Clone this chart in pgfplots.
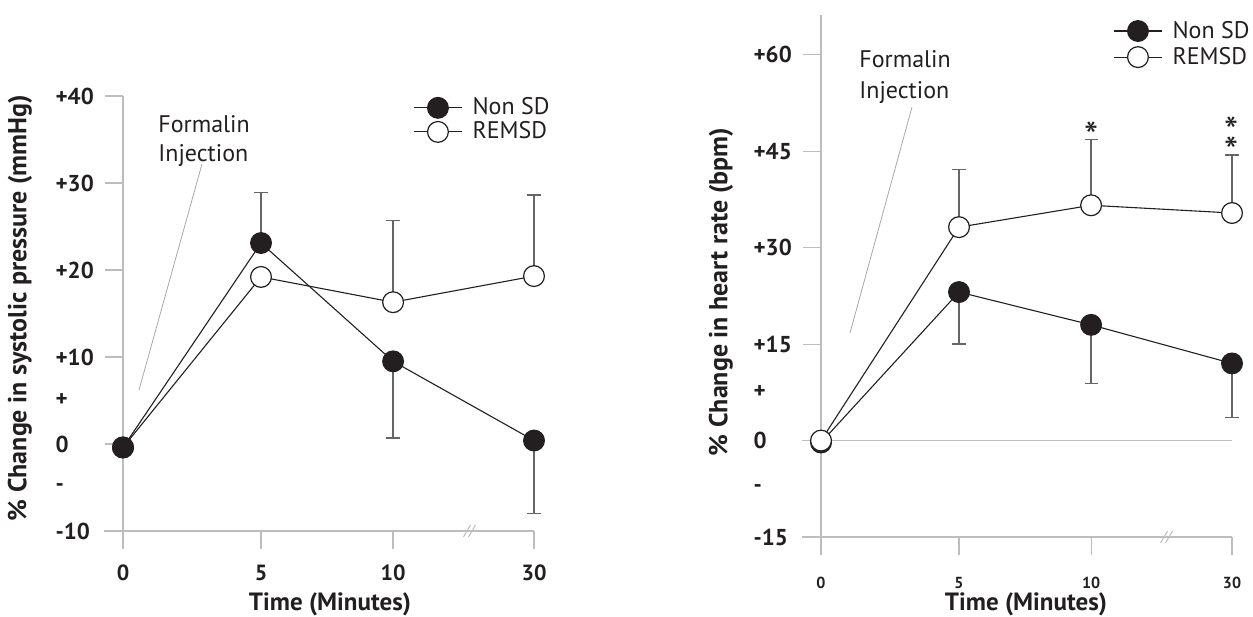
\documentclass[border=0pt]{standalone}
\usepackage{fontspec}
\setmainfont{PT Sans}
\usepackage{pgfplots}
\pgfplotsset{compat=1.18}
\usetikzlibrary{calc}
\definecolor{axgray}{HTML}{BDBDBD}
\definecolor{ebgray}{HTML}{666666}
\definecolor{ink}{HTML}{231F20}
\definecolor{ptrgray}{HTML}{A8A8A8}

\pgfplotsset{
  legend image code/.code={\draw[mark repeat=2,mark phase=2,#1] plot coordinates {(0pt,0pt) (12pt,0pt) (24pt,0pt)};},
  panel/.style={
    scale only axis, width=205.5pt,
    xmin=0, xmax=2.978,
    axis x line*=bottom, axis y line*=left,
    axis line style={axgray, line width=0.6pt},
    tick style={axgray, line width=0.6pt},
    tick align=outside, major tick length=9pt,
    xtick={0,1,1.957,2.978}, xticklabels={0,5,10,30},
    clip=false,
    yticklabel style={font=\fontsize{11.5}{13}\selectfont\bfseries, text=ink, anchor=east, text width=20.5pt, align=left, inner sep=0pt, xshift=-4pt},
    legend style={draw=none, fill=none, inner sep=0pt, font=\fontsize{12}{14}\selectfont, text=ink, cells={anchor=west}, row sep=-2pt, column sep=3pt},
  },
  nonsd/.style={ink, line width=0.55pt, mark=*, mark size=5.2pt, mark options={solid, fill=ink, draw=ink}},
  remsd/.style={ink, line width=0.55pt, mark=*, mark size=5.2pt, mark options={solid, fill=white, draw=ink, line width=0.6pt}},
  ebar/.style={forget plot, draw=none, mark=none, error bars/.cd, y dir=#1, y explicit, error bar style={draw=ebgray, line width=0.75pt}, error mark options={rotate=90, draw=ebgray, line width=0.75pt, mark size=3.3pt}},
}
\tikzset{star/.style={font={\fontsize{20}{10}\selectfont\lineskiplimit=-40pt}, text=ink, anchor=base, inner sep=0pt, align=center}}

\begin{document}
\begin{tikzpicture}
\useasboundingbox (0,0) rectangle (626.5pt,308pt);

% ---------------- left panel ----------------
\begin{axis}[panel, at={(61.5pt,42.5pt)}, anchor=south west,
  height=217.5pt, ymin=-10, ymax=40,
  ytick={40,30,20,10,0,-10}, yticklabels={+40,+30,+20,+10,0,-10},
  extra y ticks={5,-5}, extra y tick labels={+,-},
  extra y tick style={major tick style={draw=none}},
  xticklabel style={font=\fontsize{11}{13}\selectfont\bfseries, text=ink, yshift=-4.5pt},
  legend style={at={(rel axis cs:0.7056,1.006)}, anchor=north west},
]
\addlegendimage{nonsd}\addlegendentry{Non SD}
\addlegendimage{remsd}\addlegendentry{REMSD}
\draw[axgray, line width=0.6pt] (axis cs:-0.138,-10) -- (axis cs:0,-10);
\draw[axgray, line width=0.5pt] ($(axis cs:2.514,-10)+(-3.25pt,-3pt)$) -- ++(3.5pt,6pt);
\draw[axgray, line width=0.5pt] ($(axis cs:2.514,-10)+(-0.75pt,-3pt)$) -- ++(3.5pt,6pt);
\addplot[ebar=plus] coordinates {(1,23.1) +- (0,5.8)};
\addplot[ebar=minus] coordinates {(1.957,9.5) +- (0,8.8) (2.978,0.4) +- (0,8.4)};
\addplot[ebar=plus] coordinates {(1.957,16.3) +- (0,9.4) (2.978,19.3) +- (0,9.3)};
\addplot[remsd, forget plot] coordinates {(0,-0.4) (1,19.2) (1.957,16.3) (2.978,19.3)};
\addplot[nonsd, forget plot] coordinates {(0,-0.4) (1,23.1) (1.957,9.5) (2.978,0.4)};
\end{axis}

% ---------------- right panel ----------------
\begin{axis}[panel, at={(410.5pt,39.5pt)}, anchor=south west,
  height=261pt, ymin=-15, ymax=66.2,
  ytick={60,45,30,15,0,-15}, yticklabels={+60,+45,+30,+15,0,-15},
  extra y ticks={7.5,-7.5}, extra y tick labels={+,-},
  extra y tick style={major tick style={draw=none}},
  xticklabel style={font=\fontsize{8}{9}\selectfont\bfseries, text=ink, yshift=-7.5pt},
  legend style={at={(rel axis cs:0.7105,0.997)}, anchor=north west, row sep=-1pt},
]
\addlegendimage{nonsd}\addlegendentry{Non SD}
\addlegendimage{remsd}\addlegendentry{REMSD}
\draw[axgray, line width=0.6pt] (axis cs:-0.138,-15) -- (axis cs:0,-15);
\draw[axgray, line width=0.6pt] (axis cs:-0.138,0) -- (axis cs:2.978,0);
\draw[axgray, line width=0.5pt] ($(axis cs:2.507,-15)+(-3.25pt,-3pt)$) -- ++(3.5pt,6pt);
\draw[axgray, line width=0.5pt] ($(axis cs:2.507,-15)+(-0.75pt,-3pt)$) -- ++(3.5pt,6pt);
\addplot[ebar=minus] coordinates {(1,23.1) +- (0,8.1) (1.957,18.0) +- (0,9.1) (2.978,12.0) +- (0,8.4)};
\addplot[ebar=plus] coordinates {(1,33.2) +- (0,9.0) (1.957,36.6) +- (0,10.2) (2.978,35.4) +- (0,9.0)};
\addplot[nonsd, forget plot] coordinates {(0,-0.3) (1,23.1) (1.957,18.0) (2.978,12.0)};
\addplot[remsd, forget plot] coordinates {(0,0) (1,33.2) (1.957,36.6) (2.978,35.4)};
\node[star] at (axis cs:1.957,45.1) {*};
\node[star] at (axis cs:2.978,42.8) {*\\*};
\end{axis}

% ---------------- texts ----------------
\node[rotate=90, font=\fontsize{13}{14}\selectfont\bfseries, text=ink] at (10pt,154pt) {\% Change in systolic pressure (mmHg)};
\node[rotate=90, font=\fontsize{13}{14}\selectfont\bfseries, text=ink] at (360.5pt,162pt) {\% Change in heart rate (bpm)};
\node[inner sep=1pt, font=\fontsize{12.5}{14}\selectfont\bfseries, text=ink] at (165pt,6pt) {Time (Minutes)};
\node[inner sep=1pt, font=\fontsize{12.5}{14}\selectfont\bfseries, text=ink] at (513pt,6pt) {Time (Minutes)};

\node[anchor=base west, inner sep=0pt, font=\fontsize{12}{14}\selectfont, text=ink] at (79pt,241.5pt) {Formalin};
\node[anchor=base west, inner sep=0pt, font=\fontsize{12}{14}\selectfont, text=ink] at (79pt,227pt) {Injection};
\draw[ptrgray, line width=0.4pt] (101pt,226pt) -- (69.5pt,113pt);

\node[anchor=base west, inner sep=0pt, font=\fontsize{12}{14}\selectfont, text=ink] at (429.5pt,274pt) {Formalin};
\node[anchor=base west, inner sep=0pt, font=\fontsize{12}{14}\selectfont, text=ink] at (429.5pt,258.5pt) {Injection};
\draw[ptrgray, line width=0.4pt] (456pt,254.5pt) -- (425pt,141.5pt);
\end{tikzpicture}
\end{document}
